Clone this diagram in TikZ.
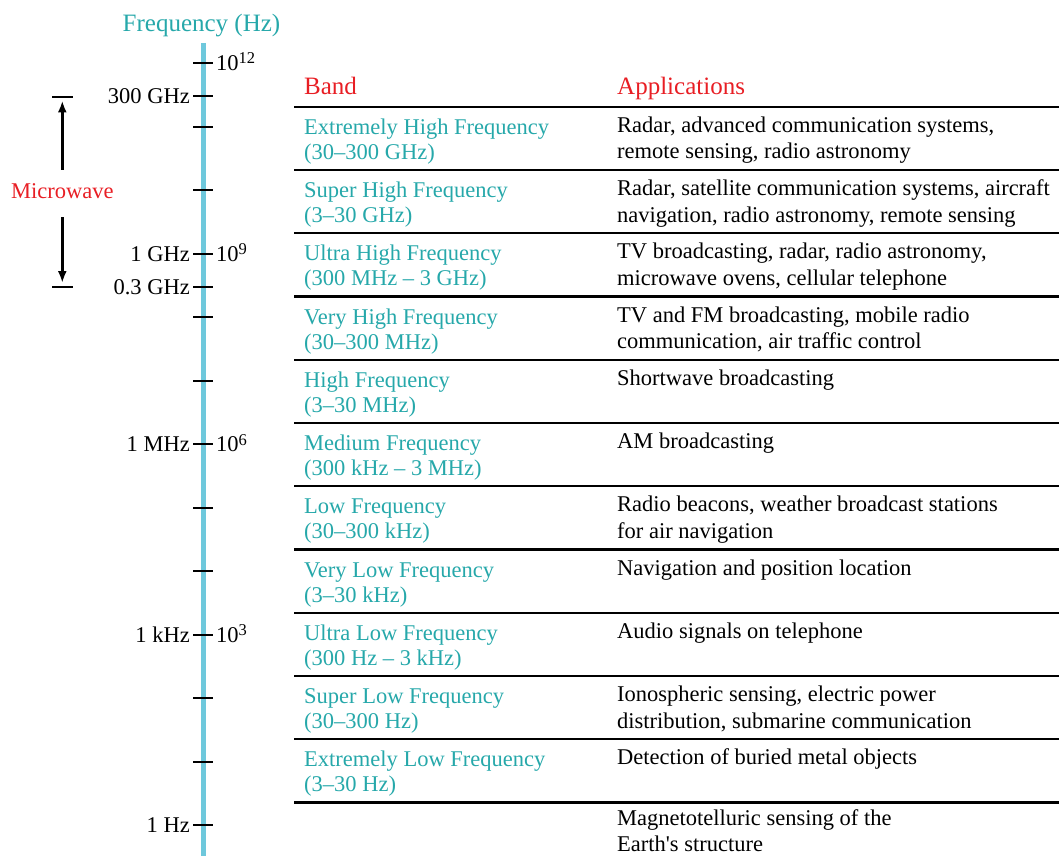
\documentclass[tikz,border=0pt]{standalone}
\usepackage{fontspec}
\setmainfont{Liberation Serif}
\usepackage{tikz}
\usetikzlibrary{arrows.meta}
\definecolor{bandteal}{RGB}{38,168,170}
\definecolor{axisblue}{RGB}{110,200,220}
\definecolor{headred}{RGB}{232,30,36}
\newcommand{\expo}[1]{\raisebox{6.5pt}{\fontsize{16.5}{18}\selectfont #1}}
\tikzset{
  bandtxt/.style={anchor=north west,inner sep=0pt,align=left,text=bandteal,font=\fontsize{22.5}{25}\selectfont},
  usetxt/.style={anchor=north west,inner sep=0pt,align=left,font=\fontsize{22.5}{26.5}\selectfont},
  lbl/.style={inner sep=0pt,font=\fontsize{22.5}{25}\selectfont},
  headtxt/.style={anchor=base west,inner sep=0pt,text=headred,font=\fontsize{25}{28}\selectfont},
  rowline/.style={line width=2.2pt},
  tickmark/.style={line width=2pt},
  mwarrow/.style={-{Latex[length=12pt,width=9pt]},line width=2.5pt}
}

\begin{document}
\begin{tikzpicture}[x=1pt,y=-1pt]
\useasboundingbox (0,0) rectangle (1059,856);
% frequency axis
\draw[axisblue,line width=5.5pt] (203.3,43)--(203.3,856);
\node[anchor=base,inner sep=0pt,text=bandteal,font=\fontsize{25}{28}\selectfont] (freq) at (201.5,31.7) {Frequency (Hz)};
\draw[tickmark] (193,63)--(213,63) (193,96.2)--(213,96.2) (193,126.5)--(213,126.5)
  (193,190)--(213,190) (193,253.5)--(213,253.5) (193,286.6)--(213,286.6)
  (193,317)--(213,317) (193,380.5)--(213,380.5) (193,444)--(213,444)
  (193,507.5)--(213,507.5) (193,571)--(213,571) (193,634.5)--(213,634.5)
  (193,698)--(213,698) (193,761.5)--(213,761.5) (193,825)--(213,825);
\node[lbl,anchor=base west] (e12) at (216,70.5) {10\expo{12}};
\node[lbl,anchor=base east] (ghz300) at (190,104) {300 GHz};
\node[lbl,anchor=base east] (ghz1) at (190,261) {1 GHz};
\node[lbl,anchor=base west] (e9) at (216,261) {10\expo{9}};
\node[lbl,anchor=base east] (ghz03) at (190,294) {0.3 GHz};
\node[lbl,anchor=base east] (mhz1) at (190,451.5) {1 MHz};
\node[lbl,anchor=base west] (e6) at (216,451.5) {10\expo{6}};
\node[lbl,anchor=base east] (khz1) at (190,642) {1 kHz};
\node[lbl,anchor=base west] (e3) at (216,642) {10\expo{3}};
\node[lbl,anchor=base east] (hz1) at (190,832.5) {1 Hz};

% microwave range
\draw[tickmark] (52,96.7)--(73,96.7) (52,286.7)--(73,286.7);
\coordinate (mwtop) at (62.3,100.5);
\coordinate (mwbot) at (62.3,283);
\node[lbl,anchor=base,text=headred,inner xsep=0pt,inner ysep=13.5pt,text depth=5pt] (mw) at (62.3,198.3) {Microwave};
\draw[mwarrow] (mw.north)--(mwtop);
\draw[mwarrow] (mw.south)--(mwbot);

% table
\node[headtxt] (bandhead) at (304,95) {Band};
\node[headtxt] (usehead) at (617,95) {Applications};
\draw[rowline] (294,106.7)--(1059,106.7) (294,169.95)--(1059,169.95)
  (294,233.2)--(1059,233.2) (294,296.45)--(1059,296.45)
  (294,359.7)--(1059,359.7) (294,422.95)--(1059,422.95)
  (294,486.2)--(1059,486.2) (294,549.45)--(1059,549.45)
  (294,612.7)--(1059,612.7) (294,675.95)--(1059,675.95)
  (294,739.2)--(1059,739.2) (294,802.45)--(1059,802.45);

\node[bandtxt] (ehf) at (304,116.7) {\strut Extremely High Frequency\\(30--300 GHz)};
\node[usetxt] (ehfuse) at (617,113.7) {\strut Radar, advanced communication systems,\\remote sensing, radio astronomy};
\node[bandtxt] (shf) at (304,179.95) {\strut Super High Frequency\\(3--30 GHz)};
\node[usetxt] (shfuse) at (617,176.95) {\strut Radar, satellite communication systems, aircraft\\navigation, radio astronomy, remote sensing};
\node[bandtxt] (uhf) at (304,243.2) {\strut Ultra High Frequency\\(300 MHz -- 3 GHz)};
\node[usetxt] (uhfuse) at (617,240.2) {\strut TV broadcasting, radar, radio astronomy,\\microwave ovens, cellular telephone};
\node[bandtxt] (vhf) at (304,306.45) {\strut Very High Frequency\\(30--300 MHz)};
\node[usetxt] (vhfuse) at (617,303.45) {\strut TV and FM broadcasting, mobile radio\\communication, air traffic control};
\node[bandtxt] (hf) at (304,369.7) {\strut High Frequency\\(3--30 MHz)};
\node[usetxt] (hfuse) at (617,366.7) {\strut Shortwave broadcasting};
\node[bandtxt] (mf) at (304,432.95) {\strut Medium Frequency\\(300 kHz -- 3 MHz)};
\node[usetxt] (mfuse) at (617,429.95) {\strut AM broadcasting};
\node[bandtxt] (lf) at (304,496.2) {\strut Low Frequency\\(30--300 kHz)};
\node[usetxt] (lfuse) at (617,493.2) {\strut Radio beacons, weather broadcast stations\\for air navigation};
\node[bandtxt] (vlf) at (304,559.45) {\strut Very Low Frequency\\(3--30 kHz)};
\node[usetxt] (vlfuse) at (617,556.45) {\strut Navigation and position location};
\node[bandtxt] (ulf) at (304,622.7) {\strut Ultra Low Frequency\\(300 Hz -- 3 kHz)};
\node[usetxt] (ulfuse) at (617,619.7) {\strut Audio signals on telephone};
\node[bandtxt] (slf) at (304,685.95) {\strut Super Low Frequency\\(30--300 Hz)};
\node[usetxt] (slfuse) at (617,682.95) {\strut Ionospheric sensing, electric power\\distribution, submarine communication};
\node[bandtxt] (elf) at (304,749.2) {\strut Extremely Low Frequency\\(3--30 Hz)};
\node[usetxt] (elfuse) at (617,746.2) {\strut Detection of buried metal objects};
\node[usetxt,font=\fontsize{22.5}{25.5}\selectfont] (earthuse) at (617,807.5) {\strut Magnetotelluric sensing of the\\Earth\textquotesingle s structure};
\end{tikzpicture}
\end{document}
